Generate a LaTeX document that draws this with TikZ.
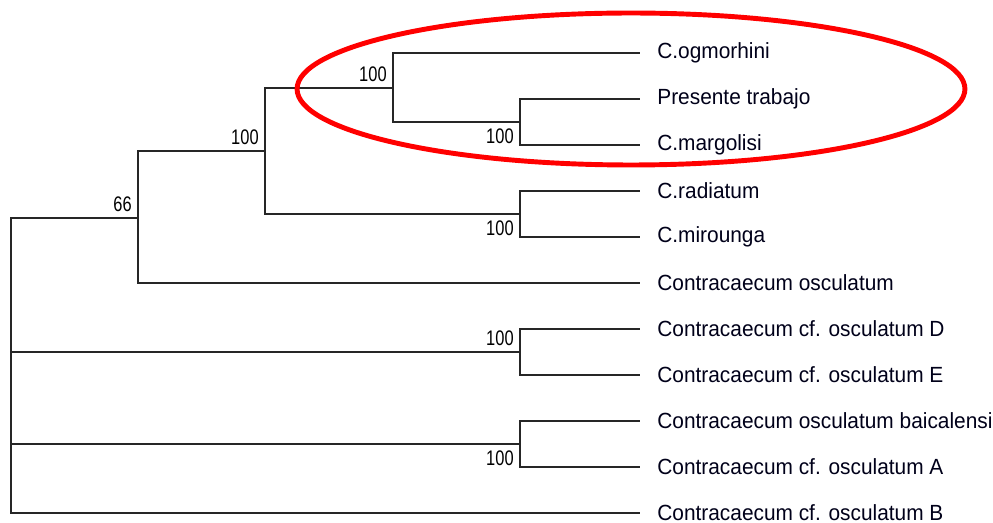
\documentclass[tikz,border=0pt]{standalone}
\usepackage{fontspec}
\setmainfont{Liberation Sans}
\newfontfamily\taxfont[FakeStretch=0.95]{Liberation Sans}
\newfontfamily\bootfont[FakeStretch=0.78]{Liberation Sans}
\begin{document}
\begin{tikzpicture}[x=0.02cm,y=-0.02cm,
  br/.style={line width=0.9pt,black!85},
  tax/.style={anchor=west,inner xsep=0.34cm,inner ysep=0pt,font=\taxfont\fontsize{12.5pt}{14pt}\selectfont,text=black!90!blue},
  boot/.style={inner sep=0.12cm,font=\bootfont\fontsize{12pt}{14pt}\selectfont}]
  \useasboundingbox (0,0) rectangle (993,523);
  \coordinate (root) at (11,365); \coordinate (n66) at (138,218);
  \coordinate (na) at (265,151); \coordinate (nb) at (393,88); \coordinate (nc) at (520,122);
  \coordinate (nd) at (520,214); \coordinate (ne) at (520,352); \coordinate (nf) at (520,444);
  \node[tax] (ogm) at (640,53) {C.ogmorhini};
  \node[tax] (pres) at (640,99) {Presente trabajo};
  \node[tax] (marg) at (640,145) {C.margolisi};
  \node[tax] (rad) at (640,191) {C.radiatum};
  \node[tax] (mir) at (640,237) {C.mirounga};
  \node[tax] (osc) at (640,283) {Contracaecum osculatum};
  \node[tax] (cfD) at (640,329) {Contracaecum cf. osculatum D};
  \node[tax] (cfE) at (640,375) {Contracaecum cf. osculatum E};
  \node[tax] (baic) at (640,421) {Contracaecum osculatum baicalensi};
  \node[tax] (cfA) at (640,467) {Contracaecum cf. osculatum A};
  \node[tax] (cfB) at (640,513) {Contracaecum cf. osculatum B};
  \draw[br] (root) |- (n66); \draw[br] (root) |- (ne); \draw[br] (root) |- (nf); \draw[br] (root) |- (cfB.west);
  \draw[br] (n66) |- (na); \draw[br] (n66) |- (osc.west);
  \draw[br] (na) |- (nb); \draw[br] (na) |- (nd);
  \draw[br] (nb) |- (ogm.west); \draw[br] (nb) |- (nc);
  \draw[br] (nc) |- (pres.west); \draw[br] (nc) |- (marg.west);
  \draw[br] (nd) |- (rad.west); \draw[br] (nd) |- (mir.west);
  \draw[br] (ne) |- (cfD.west); \draw[br] (ne) |- (cfE.west);
  \draw[br] (nf) |- (baic.west); \draw[br] (nf) |- (cfA.west);
  \node[boot,anchor=south east] (b66) at (n66) {66};
  \node[boot,anchor=south east] (ba) at (na) {100};
  \node[boot,anchor=south east] (bb) at (nb) {100};
  \node[boot,anchor=north east] (bc) at (nc) {100};
  \node[boot,anchor=north east] (bd) at (nd) {100};
  \node[boot,anchor=south east] (be) at (ne) {100};
  \node[boot,anchor=north east] (bf) at (nf) {100};
  \draw[red,line width=2.8pt] (631,89) ellipse [x radius=6.68cm,y radius=1.52cm];
\end{tikzpicture}
\end{document}
